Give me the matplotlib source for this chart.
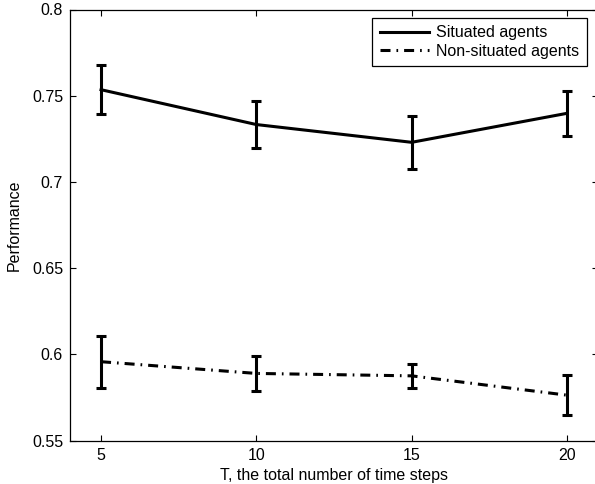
import matplotlib
matplotlib.use("Agg")
import matplotlib.pyplot as plt

plt.rcParams['font.family'] = ['Liberation Sans', 'DejaVu Sans']
plt.rcParams['font.size'] = 11.5
plt.rcParams['lines.scale_dashes'] = False

# data
steps = [5, 10, 15, 20]
situated = [0.7535, 0.7333, 0.7230, 0.7398]
situated_err = [0.0143, 0.0134, 0.0153, 0.0131]
nonsituated = [0.5958, 0.5890, 0.5876, 0.5764]
nonsituated_err = [0.0150, 0.0102, 0.0069, 0.0116]

xticks = [5, 10, 15, 20]
yticks = [0.55, 0.6, 0.65, 0.7, 0.75, 0.8]
yticklabels = ['0.55', '0.6', '0.65', '0.7', '0.75', '0.8']

W, H = 595, 484
fig = plt.figure(figsize=(W / 100, H / 100), dpi=100)
ax = fig.add_axes([70 / W, 1 - 440.7 / H, (598 - 70) / W, (440.7 - 9.5) / H])

lw = 2.2
ax.plot(steps, situated, color='k', lw=lw, label='Situated agents')
ax.plot(steps, nonsituated, color='k', lw=lw, dashes=[7.2, 4.3, 1.2, 4.3],
        dash_capstyle='butt', label='Non-situated agents')

for y, e in ((situated, situated_err), (nonsituated, nonsituated_err)):
    ax.errorbar(steps, y, yerr=e, fmt='none', ecolor='k', elinewidth=lw,
                capsize=3.4, capthick=lw)

ax.set_xlim(4, 21)
ax.set_ylim(0.55, 0.8)
ax.set_xticks(xticks)
ax.set_yticks(yticks)
ax.set_yticklabels(yticklabels)
ax.tick_params(direction='in', top=True, right=True, length=4, width=0.8,
               pad=5)
for s in ax.spines.values():
    s.set_linewidth(0.9)

ax.set_xlabel('T, the total number of time steps', labelpad=4)
ax.set_ylabel('Performance', labelpad=7)

leg = ax.legend(loc='upper right', bbox_to_anchor=(586.7 / W, 1 - 18.3 / H),
                bbox_transform=fig.transFigure, borderaxespad=0,
                fancybox=False, framealpha=1, edgecolor='k',
                handlelength=3.1, handletextpad=0.45, borderpad=0.45,
                labelspacing=0.22)
leg.get_frame().set_linewidth(0.9)

fig.savefig('out.png', dpi=100)
